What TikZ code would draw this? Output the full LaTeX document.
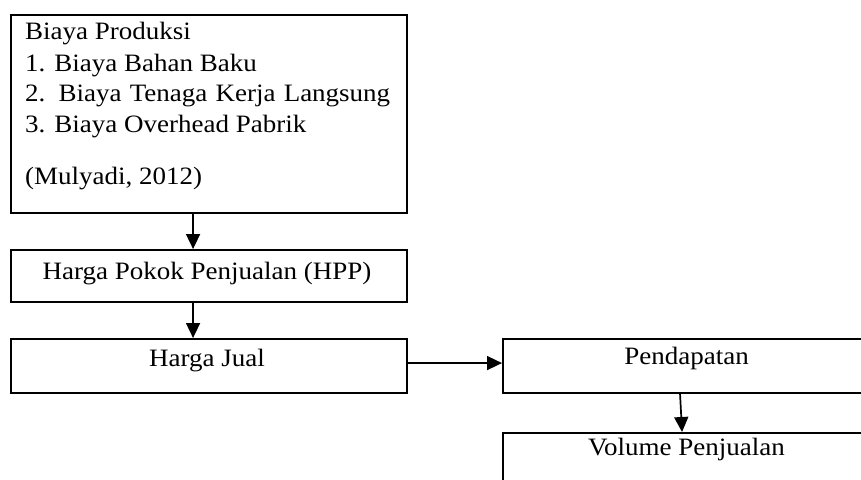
\documentclass[tikz,border=0pt]{standalone}
\usepackage{fontspec}
\setmainfont[FakeStretch=1.08]{Liberation Serif}
\usetikzlibrary{arrows.meta}
\begin{document}
\begin{tikzpicture}[x=1pt,y=-1pt,
  box/.style={draw,line width=2.1pt,rectangle,inner sep=0pt,anchor=north west},
  txt/.style={inner sep=0pt,anchor=base west,font=\fontsize{25}{30.7}\selectfont},
  ctxt/.style={txt,anchor=base},
  arr/.style={line width=1.7pt,-{Triangle[length=15pt,width=14pt]}}]
\useasboundingbox (0,0) rectangle (861,479);
\clip (0,0) rectangle (861,479);
% boxes
\node[box,minimum width=396pt,minimum height=198pt] (prod) at (10,14) {};
\node[box,minimum width=396pt,minimum height=52pt] (hpp) at (10,249) {};
\node[box,minimum width=396pt,minimum height=54pt] (hj) at (10,338) {};
\node[box,minimum width=368pt,minimum height=54pt] (pend) at (502,338) {};
\node[box,minimum width=368pt,minimum height=80pt] (vol) at (502,432) {};
% texts
\node[txt] (t1) at (25,39.3) {Biaya Produksi};
\node[txt] (t2) at (25,71) {1. Biaya Bahan Baku};
\node[txt] (t3) at (25,101.5) {\makebox[365pt][s]{2. Biaya Tenaga Kerja Langsung}};
\node[txt] (t4) at (25,132) {3. Biaya Overhead Pabrik};
\node[txt] (t5) at (25,184) {(Mulyadi, 2012)};
\node[ctxt] (thpp) at (207,279) {Harga Pokok Penjualan (HPP)};
\node[ctxt] (thj) at (207,366) {Harga Jual};
\node[ctxt] (tpend) at (686.5,364) {Pendapatan};
\node[ctxt] (tvol) at (686.5,455) {Volume Penjualan};
% arrows
\draw[arr] ([xshift=-16pt]prod.south) -- ([xshift=-16pt]hpp.north);
\draw[arr] ([xshift=-16pt]hpp.south) -- ([xshift=-16pt]hj.north);
\draw[arr] ([yshift=3pt]hj.east) -- ([yshift=3pt]pend.west);
\draw[arr] ([xshift=-7pt]pend.south) -- ([xshift=-5pt]vol.north);
\end{tikzpicture}
\end{document}
